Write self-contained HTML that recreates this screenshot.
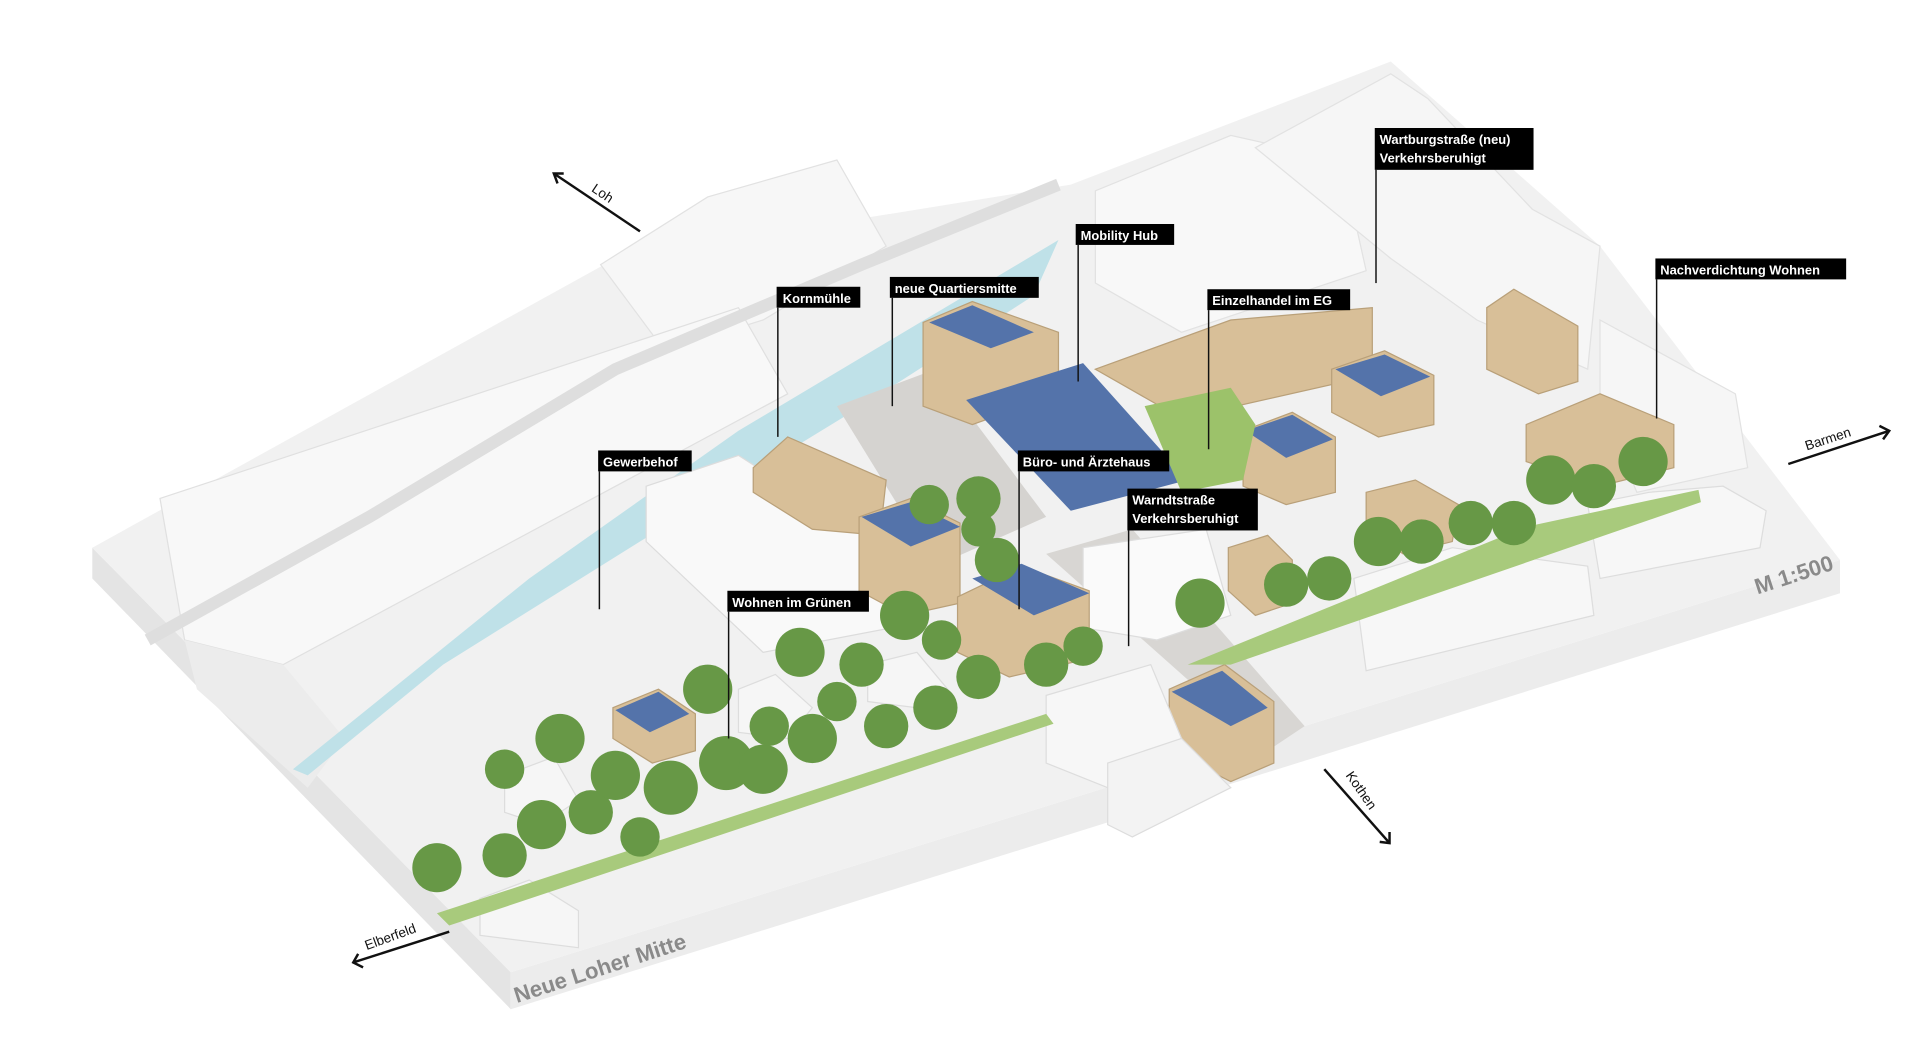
<!DOCTYPE html>
<html><head><meta charset="utf-8"><style>
html,body{margin:0;padding:0;background:#fff;}
svg{display:block;}
.lb{font-family:"Liberation Sans",sans-serif;font-weight:bold;font-size:10.5px;fill:#fff;}
.ar{font-family:"Liberation Sans",sans-serif;font-size:11px;fill:#111;}
</style></head><body>
<svg width="1920" height="1056" viewBox="0 0 1560 858" preserveAspectRatio="none" xmlns="http://www.w3.org/2000/svg">
<rect width="1560" height="858" fill="#fff"/>
<polygon points="75,445 415,790 415,820 75,470" fill="#e4e4e4"/>
<polygon points="415,790 1495,455 1495,482 415,820" fill="#ececec"/>
<polygon points="75,445 500,210 870,150 1130,50 1300,200 1495,455 415,790" fill="#f1f1f1"/>
<polygon points="488,215 575,160 680,130 720,200 620,260 540,285" fill="#f7f7f7" stroke="#e2e2e2"/>
<polygon points="890,155 1000,110 1090,130 1110,220 960,270 890,230" fill="#f8f8f8" stroke="#e2e2e2"/>
<polygon points="1020,120 1130,60 1160,80 1245,170 1300,200 1290,300 1200,260 1130,210" fill="#f6f6f6" stroke="#e2e2e2"/>
<polygon points="1300,260 1410,320 1420,380 1330,400 1300,330" fill="#f6f6f6" stroke="#e2e2e2"/>
<polygon points="130,405 600,250 640,320 230,540 150,520" fill="#f8f8f8" stroke="#e0e0e0"/>
<polygon points="150,520 230,540 280,600 250,640 160,560" fill="#ececec"/>
<polygon points="238,625 430,470 600,350 860,195 840,240 700,330 520,440 360,540 250,630" fill="#bfe1e8"/>
<polyline points="120,520 300,420 500,300 700,215 860,150" fill="none" stroke="#dedede" stroke-width="10"/>
<polygon points="680,330 760,300 850,420 760,460" fill="#d5d3d0"/>
<polygon points="850,450 920,430 1060,590 1030,610" fill="#d8d6d3"/>
<polygon points="525,395 600,370 725,450 725,510 620,530 525,440" fill="#f9f9f9" stroke="#dcdcdc"/>
<polygon points="880,445 980,430 1000,500 940,520 880,510" fill="#fafafa" stroke="#ddd"/>
<g fill="#d8bf98" stroke="#b9a079">
<polygon points="750,262 790,245 860,270 860,320 790,345 750,330"/>
<polygon points="890,300 1000,260 1115,250 1115,305 960,340"/>
<polygon points="612,380 640,355 720,390 715,435 660,430 612,400"/>
<polygon points="698,420 740,405 780,425 780,490 735,500 698,480"/>
<polygon points="778,485 830,460 885,480 885,535 820,550 778,530"/>
<polygon points="1010,350 1050,335 1085,355 1085,400 1045,410 1010,395"/>
<polygon points="1082,300 1125,285 1165,305 1165,345 1120,355 1082,335"/>
<polygon points="1208,250 1230,235 1282,265 1282,310 1250,320 1208,300"/>
<polygon points="1240,345 1300,320 1360,345 1360,380 1300,395 1240,375"/>
<polygon points="1110,400 1150,390 1185,410 1180,440 1140,450 1110,430"/>
<polygon points="998,445 1030,435 1050,455 1050,490 1020,500 998,480"/>
<polygon points="950,560 995,540 1035,570 1035,620 1000,635 950,610"/>
<polygon points="498,575 535,560 565,580 565,610 530,620 498,600"/>
</g>
<g fill="#5473aa">
<polygon points="785,325 880,295 965,390 870,415"/>
<polygon points="755,262 790,248 840,270 805,283"/>
<polygon points="700,420 740,408 780,428 740,444"/>
<polygon points="790,470 830,458 885,482 840,500"/>
<polygon points="1012,350 1050,337 1083,357 1045,372"/>
<polygon points="1085,300 1125,288 1162,306 1122,322"/>
<polygon points="952,562 993,545 1030,575 1000,590"/>
<polygon points="500,577 535,562 560,580 528,595"/>
</g>
<polygon points="930,330 1000,315 1020,345 1010,390 960,400" fill="#9cc26a"/>
<polygon points="850,565 935,540 960,600 900,640 850,620" fill="#f7f7f7" stroke="#ddd"/>
<polygon points="900,620 960,600 1000,640 920,680 900,670" fill="#f3f3f3" stroke="#ddd"/>
<polygon points="1100,470 1180,445 1290,460 1295,500 1110,545" fill="#f7f7f7" stroke="#ddd"/>
<polygon points="1290,410 1340,400 1400,395 1435,415 1430,445 1300,470" fill="#f7f7f7" stroke="#ddd"/>
<polygon points="390,730 430,715 470,740 470,770 390,760" fill="#f6f6f6" stroke="#ddd"/>
<polygon points="410,630 450,615 470,650 440,670 410,660" fill="#f6f6f6" stroke="#ddd"/>
<polygon points="600,560 630,548 660,575 640,600 600,595" fill="#f6f6f6" stroke="#ddd"/>
<polygon points="705,540 745,530 770,560 745,575 705,570" fill="#f6f6f6" stroke="#ddd"/>
<polygon points="355,742 850,580 856,588 365,752" fill="#a8ca7c"/>
<polygon points="965,540 1240,428 1380,398 1382,408 1000,540" fill="#a8ca7c"/>
<g fill="#679846">
<circle cx="355" cy="705" r="20"/><circle cx="410" cy="695" r="18"/><circle cx="440" cy="670" r="20"/>
<circle cx="455" cy="600" r="20"/><circle cx="410" cy="625" r="16"/><circle cx="480" cy="660" r="18"/>
<circle cx="500" cy="630" r="20"/><circle cx="545" cy="640" r="22"/><circle cx="590" cy="620" r="22"/>
<circle cx="620" cy="625" r="20"/><circle cx="575" cy="560" r="20"/><circle cx="660" cy="600" r="20"/>
<circle cx="650" cy="530" r="20"/><circle cx="700" cy="540" r="18"/><circle cx="735" cy="500" r="20"/>
<circle cx="720" cy="590" r="18"/><circle cx="760" cy="575" r="18"/><circle cx="795" cy="550" r="18"/>
<circle cx="765" cy="520" r="16"/><circle cx="810" cy="455" r="18"/><circle cx="795" cy="405" r="18"/>
<circle cx="755" cy="410" r="16"/><circle cx="850" cy="540" r="18"/><circle cx="880" cy="525" r="16"/>
<circle cx="975" cy="490" r="20"/><circle cx="1045" cy="475" r="18"/><circle cx="1080" cy="470" r="18"/>
<circle cx="1120" cy="440" r="20"/><circle cx="1155" cy="440" r="18"/><circle cx="1195" cy="425" r="18"/>
<circle cx="1230" cy="425" r="18"/><circle cx="1260" cy="390" r="20"/><circle cx="1295" cy="395" r="18"/>
<circle cx="1335" cy="375" r="20"/><circle cx="625" cy="590" r="16"/><circle cx="680" cy="570" r="16"/>
<circle cx="520" cy="680" r="16"/><circle cx="795" cy="430" r="14"/>
</g>
<g stroke="#111" stroke-width="1.2">
<line x1="632" y1="250" x2="632" y2="355"/><line x1="725" y1="242" x2="725" y2="330"/>
<line x1="876" y1="199" x2="876" y2="310"/><line x1="1118" y1="138" x2="1118" y2="230"/>
<line x1="982" y1="252" x2="982" y2="365"/><line x1="1346" y1="227" x2="1346" y2="340"/>
<line x1="487" y1="383" x2="487" y2="495"/><line x1="828" y1="383" x2="828" y2="495"/>
<line x1="917" y1="431" x2="917" y2="525"/><line x1="592" y1="497" x2="592" y2="600"/>
</g>
<g fill="#000">
<rect x="631" y="233" width="68" height="17"/><rect x="723" y="225" width="121" height="17"/>
<rect x="874" y="182" width="80" height="17"/><rect x="1117" y="104" width="129" height="34"/>
<rect x="981" y="235" width="116" height="17"/><rect x="1345" y="210" width="155" height="17"/>
<rect x="486" y="366" width="76" height="17"/><rect x="827" y="366" width="123" height="17"/>
<rect x="916" y="397" width="106" height="34"/><rect x="591" y="480" width="115" height="17"/>
</g>
<text class="lb" x="636" y="246">Kornmühle</text>
<text class="lb" x="727" y="238">neue Quartiersmitte</text>
<text class="lb" x="878" y="195">Mobility Hub</text>
<text class="lb" x="1121" y="117">Wartburgstraße (neu)</text>
<text class="lb" x="1121" y="132">Verkehrsberuhigt</text>
<text class="lb" x="985" y="248">Einzelhandel im EG</text>
<text class="lb" x="1349" y="223">Nachverdichtung Wohnen</text>
<text class="lb" x="490" y="379">Gewerbehof</text>
<text class="lb" x="831" y="379">Büro- und Ärztehaus</text>
<text class="lb" x="920" y="410">Warndtstraße</text>
<text class="lb" x="920" y="425">Verkehrsberuhigt</text>
<text class="lb" x="595" y="493">Wohnen im Grünen</text>
<g stroke="#111" stroke-width="2" fill="none">
<line x1="520" y1="188" x2="450" y2="141"/><polyline points="458,141 450,141 453,149"/>
<line x1="1453" y1="377" x2="1535" y2="350"/><polyline points="1527,346 1535,350 1530,357"/>
<line x1="1076" y1="625" x2="1129" y2="685"/><polyline points="1129,676 1129,685 1121,684"/>
<line x1="365" y1="757" x2="287" y2="782"/><polyline points="291,775 287,782 295,786"/>
</g>
<text class="ar" transform="translate(480,155) rotate(34)">Loh</text>
<text class="ar" transform="translate(1468,366) rotate(-18)">Barmen</text>
<text class="ar" transform="translate(1093,630) rotate(55)">Kothen</text>
<text class="ar" transform="translate(298,772) rotate(-20)">Elberfeld</text>
<text transform="translate(1428,483) rotate(-18)" font-family="Liberation Sans,sans-serif" font-weight="bold" font-size="18" fill="#8a8a8a">M 1:500</text>
<text transform="translate(420,815) rotate(-18)" font-family="Liberation Sans,sans-serif" font-weight="bold" font-size="18" fill="#8a8a8a">Neue Loher Mitte</text>
</svg>
</body></html>
